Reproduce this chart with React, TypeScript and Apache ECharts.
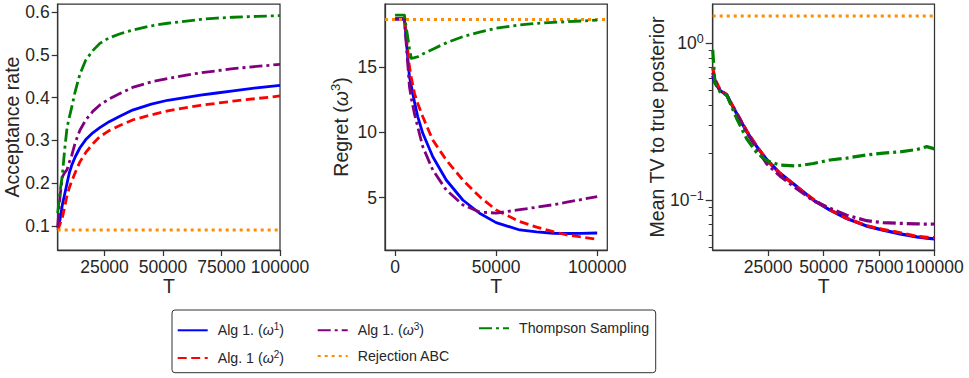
import React, { useEffect, useRef } from 'react';
import * as echarts from 'echarts';

const FONT = '"Liberation Sans", Arial, Helvetica, sans-serif';
const TXT = '#262626';
const AX = '#333333';

// ---------- names ----------
const N_W1 = 'Alg 1. (ω¹)';
const N_W2 = 'Alg. 1 (ω²)';
const N_W3 = 'Alg 1. (ω³)';
const N_REJ = 'Rejection ABC';
const N_TS = 'Thompson Sampling';

// ---------- panel 1: acceptance rate ----------
const accT = [5000, 6000, 7000, 8000, 9000, 10000, 11000, 12500, 14500, 17000, 20000, 23000, 27000, 32000, 37000, 45000, 52000, 60000, 66000, 73000, 80000, 90000, 100000];
const accW1 = [0.095, 0.115, 0.15, 0.175, 0.2, 0.225, 0.242, 0.262, 0.283, 0.302, 0.318, 0.33, 0.344, 0.358, 0.371, 0.385, 0.394, 0.401, 0.406, 0.411, 0.416, 0.423, 0.429];
const accW2 = [0.09, 0.105, 0.12, 0.145, 0.172, 0.19, 0.205, 0.225, 0.25, 0.272, 0.292, 0.309, 0.323, 0.336, 0.348, 0.36, 0.369, 0.377, 0.382, 0.387, 0.392, 0.398, 0.404];
const accW3 = [0.1, 0.17, 0.215, 0.225, 0.232, 0.25, 0.265, 0.295, 0.324, 0.348, 0.368, 0.383, 0.397, 0.411, 0.424, 0.437, 0.445, 0.453, 0.458, 0.463, 0.468, 0.473, 0.478];
const accTS = [0.13, 0.18, 0.22, 0.28, 0.33, 0.355, 0.378, 0.415, 0.455, 0.488, 0.51, 0.527, 0.54, 0.55, 0.558, 0.568, 0.574, 0.579, 0.583, 0.586, 0.588, 0.59, 0.592];
const accRej = 0.091;
const accXRange = [5000, 100000];
const accYRange = [0.044, 0.619];
const accXTicks = [25000, 50000, 75000, 100000];
const accYTicks = [0.1, 0.2, 0.3, 0.4, 0.5, 0.6];

// ---------- panel 2: regret ----------
const regT = [0, 4600, 7100, 8000, 9600, 11200, 13700, 18650, 25300, 33500, 41800, 50000, 61700, 70000, 78200, 85000, 92000, 100000];
const regW1 = [18.65, 18.65, 14.24, 13.55, 12.3, 11.2, 9.92, 8.13, 6.35, 4.82, 3.81, 3.09, 2.53, 2.38, 2.28, 2.26, 2.27, 2.3];
const regW2 = [18.7, 18.7, 15.0, 14.2, 12.97, 12.2, 11.18, 9.4, 7.88, 6.35, 5.08, 4.06, 3.17, 2.75, 2.4, 2.15, 2.0, 1.82];
const regW3 = [18.65, 18.65, 13.47, 12.6, 11.4, 10.4, 8.89, 7.11, 5.59, 4.45, 3.9, 3.82, 4.08, 4.27, 4.46, 4.65, 4.85, 5.08];
const regTS = [18.95, 18.95, 16.4, 15.64, 15.7, 15.77, 15.98, 16.35, 16.83, 17.3, 17.65, 17.95, 18.2, 18.32, 18.4, 18.44, 18.5, 18.56];
const regRej = 18.62;
const regXRange = [-5000, 105000];
const regYRange = [1.0, 19.8];
const regXTicks = [0, 50000, 100000];
const regYTicks = [5, 10, 15];

// ---------- panel 3: mean TV ----------
const tvT = [0, 1000, 3300, 6300, 8000, 10850, 15400, 19900, 24400, 30400, 37900, 45400, 52900, 60400, 69400, 76900, 84500, 92000, 96500, 100000];
const tvW1 = [0.62, 0.56, 0.5, 0.468, 0.42, 0.355, 0.272, 0.219, 0.181, 0.148, 0.122, 0.1, 0.0862, 0.0762, 0.0682, 0.0643, 0.0608, 0.0582, 0.0572, 0.0565];
const tvW2 = [0.7, 0.59, 0.505, 0.47, 0.422, 0.358, 0.275, 0.22, 0.179, 0.147, 0.121, 0.101, 0.0866, 0.0766, 0.0685, 0.0648, 0.0618, 0.0586, 0.0578, 0.0575];
const tvW3 = [0.65, 0.58, 0.5, 0.468, 0.42, 0.355, 0.27, 0.212, 0.17, 0.142, 0.118, 0.099, 0.0885, 0.08, 0.0738, 0.0717, 0.071, 0.0705, 0.0702, 0.0703];
const tvTS = [0.906, 0.56, 0.49, 0.468, 0.41, 0.33, 0.245, 0.2, 0.178, 0.167, 0.165, 0.171, 0.18, 0.185, 0.194, 0.199, 0.203, 0.21, 0.219, 0.212];
const tvRej = 1.49;
const tvXRange = [0, 100000];
const tvYRange = [0.048, 1.78];
const tvXTicks = [25000, 50000, 75000, 100000];
const tvYMajor = [0.1, 1];
const tvYMinor = [0.05, 0.06, 0.07, 0.08, 0.09, 0.2, 0.3, 0.4, 0.5, 0.6, 0.7, 0.8, 0.9];

// ---------- styles ----------
const STY: Record<string, { color: string; type: any; width: number }> = {
  [N_W1]: { color: '#0000ff', type: 'solid', width: 2.8 },
  [N_W2]: { color: '#ff0000', type: [9, 4.5], width: 2.8 },
  [N_W3]: { color: '#800080', type: [13, 4, 3, 4], width: 2.8 },
  [N_REJ]: { color: '#ff8c00', type: [3, 4], width: 3 },
  [N_TS]: { color: '#008000', type: [13, 4, 3, 4], width: 2.8 },
};

const GRIDS = [
  { left: 57.7, top: 4, width: 222.3, height: 246 },
  { left: 385, top: 4, width: 222.3, height: 246 },
  { left: 712.7, top: 4, width: 221.8, height: 246 },
];

function line(name: string, xs: number[], ys: number[], xi: number, yi: number, z: number, w?: number) {
  const s = STY[name];
  return {
    type: 'line',
    name,
    xAxisIndex: xi,
    yAxisIndex: yi,
    data: xs.map((x, i) => [x, ys[i]]),
    symbol: 'none',
    showSymbol: false,
    silent: true,
    z,
    itemStyle: { color: s.color },
    lineStyle: { color: s.color, type: s.type, width: w ?? s.width, cap: 'butt', join: 'round' },
    emphasis: { disabled: true },
  };
}

function hline(name: string, range: number[], v: number, xi: number, yi: number, z: number) {
  return line(name, range, range.map(() => v), xi, yi, z);
}

const tickLabel = { fontSize: 17.5, fontFamily: FONT, color: TXT };
const nameStyle = { fontSize: 19.5, fontFamily: FONT, color: TXT };

function xAxis(gi: number, range: number[], ticks: number[]) {
  return {
    type: 'value',
    gridIndex: gi,
    min: range[0],
    max: range[1],
    name: 'T',
    nameLocation: 'middle',
    nameGap: 26,
    nameMoveOverlap: false,
    nameTextStyle: { ...nameStyle, lineHeight: 20 },
    axisLine: { show: true, onZero: false, lineStyle: { color: AX, width: 1.25 } },
    axisTick: { show: true, length: 6, customValues: ticks, lineStyle: { color: AX, width: 1.25 } },
    axisLabel: { ...tickLabel, lineHeight: 18, margin: 8, customValues: ticks, formatter: (v: number) => String(v) },
    splitLine: { show: false },
  };
}

const supRich = {
  n: { fontSize: 19.5, fontFamily: FONT, color: TXT, lineHeight: 24 },
  w: { fontSize: 19.5, fontFamily: FONT, color: TXT, fontStyle: 'italic', lineHeight: 24 },
  s: { fontSize: 13, fontFamily: FONT, color: TXT, lineHeight: 13, verticalAlign: 'top' },
};

const legendRich = {
  n: { fontSize: 14.2, fontFamily: FONT, color: TXT, lineHeight: 18 },
  w: { fontSize: 14.2, fontFamily: FONT, color: TXT, fontStyle: 'italic', lineHeight: 18 },
  s: { fontSize: 10, fontFamily: FONT, color: TXT, lineHeight: 10, verticalAlign: 'top' },
};

const legendText: Record<string, string> = {
  [N_W1]: '{n|Alg 1. (}{w|ω}{s|1}{n|)}',
  [N_W2]: '{n|Alg. 1 (}{w|ω}{s|2}{n|)}',
  [N_W3]: '{n|Alg 1. (}{w|ω}{s|3}{n|)}',
  [N_REJ]: '{n|Rejection ABC}',
  [N_TS]: '{n|Thompson Sampling}',
};

function legend(names: string[], left: number) {
  return {
    data: names,
    orient: 'vertical',
    left,
    top: 321.3,
    padding: 0,
    itemWidth: 30,
    itemHeight: 14,
    itemGap: 11.7,
    selectedMode: false,
    itemStyle: { opacity: 0, borderWidth: 0 },
    formatter: (n: string) => legendText[n],
    textStyle: { padding: [0, 0, 0, 5], rich: legendRich },
  };
}

export default function App() {
  const ref = useRef<HTMLDivElement>(null);
  useEffect(() => {
    if (!ref.current) return;
    const chart = echarts.init(ref.current, undefined, { renderer: 'svg' });
    const L10 = Math.log10;
    const option: any = {
      animation: false,
      backgroundColor: '#ffffff',
      textStyle: { fontFamily: FONT },
      grid: GRIDS.map((g) => ({
        ...g,
        show: true,
        borderColor: AX,
        borderWidth: 1.25,
        backgroundColor: 'transparent',
        containLabel: false,
        outerBoundsMode: 'none',
      })),
      xAxis: [xAxis(0, accXRange, accXTicks), xAxis(1, regXRange, regXTicks), xAxis(2, tvXRange, tvXTicks)],
      yAxis: [
        {
          type: 'value',
          gridIndex: 0,
          min: accYRange[0],
          max: accYRange[1],
          name: 'Acceptance rate',
          nameLocation: 'middle',
          nameGap: 35.5,
          nameMoveOverlap: false,
          nameTextStyle: nameStyle,
          axisLine: { show: true, onZero: false, lineStyle: { color: AX, width: 1.25 } },
          axisTick: { show: true, length: 6, customValues: accYTicks, lineStyle: { color: AX, width: 1.25 } },
          axisLabel: { ...tickLabel, margin: 8, customValues: accYTicks, formatter: (v: number) => v.toFixed(1) },
          splitLine: { show: false },
        },
        {
          type: 'value',
          gridIndex: 1,
          min: regYRange[0],
          max: regYRange[1],
          name: '{n|Regret (}{w|ω}{s|3}{n|)}',
          nameLocation: 'middle',
          nameGap: 32,
          nameMoveOverlap: false,
          nameTextStyle: { ...nameStyle, rich: supRich },
          axisLine: { show: true, onZero: false, lineStyle: { color: AX, width: 1.25 } },
          axisTick: { show: true, length: 6, customValues: regYTicks, lineStyle: { color: AX, width: 1.25 } },
          axisLabel: { ...tickLabel, margin: 8, customValues: regYTicks, formatter: (v: number) => String(v) },
          splitLine: { show: false },
        },
        {
          type: 'log',
          logBase: 10,
          gridIndex: 2,
          min: tvYRange[0],
          max: tvYRange[1],
          axisLine: { show: true, onZero: false, lineStyle: { color: AX, width: 1.25 } },
          axisTick: { show: false },
          axisLabel: { show: false },
          splitLine: { show: false },
          minorTick: { show: false },
        },
        {
          type: 'value',
          gridIndex: 2,
          position: 'left',
          min: L10(tvYRange[0]),
          max: L10(tvYRange[1]),
          name: 'Mean TV to true posterior',
          nameLocation: 'middle',
          nameGap: 46,
          nameMoveOverlap: false,
          nameTextStyle: nameStyle,
          axisLine: { show: false },
          axisTick: { show: true, length: 7, customValues: tvYMajor.map(L10), lineStyle: { color: AX, width: 1.25 } },
          axisLabel: {
            margin: 9,
            customValues: tvYMajor.map(L10),
            formatter: (v: number) => '{b|10}{s|' + (Math.round(v) < 0 ? '−' + Math.abs(Math.round(v)) : String(Math.round(v))) + '}',
            rich: {
              b: { fontSize: 17.5, fontFamily: FONT, color: TXT, lineHeight: 22 },
              s: { fontSize: 12.5, fontFamily: FONT, color: TXT, lineHeight: 12, verticalAlign: 'top' },
            },
          },
          splitLine: { show: false },
        },
        {
          type: 'value',
          gridIndex: 2,
          position: 'left',
          min: L10(tvYRange[0]),
          max: L10(tvYRange[1]),
          axisLine: { show: false },
          axisTick: { show: true, length: 4, customValues: tvYMinor.map(L10), lineStyle: { color: AX, width: 1 } },
          axisLabel: { show: false },
          splitLine: { show: false },
        },
      ],
      legend: [legend([N_W1, N_W2], 176.7), legend([N_W3, N_REJ], 316.7), legend([N_TS], 478)],
      graphic: [
        {
          type: 'rect',
          z: 0,
          silent: true,
          shape: { x: 172, y: 310, width: 483.7, height: 62.7, r: 3 },
          style: { fill: '#ffffff', stroke: AX, lineWidth: 1 },
        },
      ],
      series: [
        line(N_W1, accT, accW1, 0, 0, 2),
        line(N_W2, accT, accW2, 0, 0, 3),
        line(N_W3, accT, accW3, 0, 0, 4),
        hline(N_REJ, accXRange, accRej, 0, 0, 5),
        line(N_TS, accT, accTS, 0, 0, 6),

        line(N_W1, regT, regW1, 1, 1, 2),
        line(N_W2, regT, regW2, 1, 1, 3),
        line(N_W3, regT, regW3, 1, 1, 4),
        hline(N_REJ, regXRange, regRej, 1, 1, 5),
        line(N_TS, regT, regTS, 1, 1, 6),

        line(N_W1, tvT, tvW1, 2, 2, 2, 3.2),
        line(N_W2, tvT, tvW2, 2, 2, 3, 3.2),
        line(N_W3, tvT, tvW3, 2, 2, 4, 3.2),
        hline(N_REJ, tvXRange, tvRej, 2, 2, 5),
        line(N_TS, tvT, tvTS, 2, 2, 6, 3.2),
      ],
    };
    chart.setOption(option);
    return () => chart.dispose();
  }, []);
  return <div ref={ref} style={{ position: 'fixed', left: 0, top: 0, width: 969, height: 378 }} />;
}
